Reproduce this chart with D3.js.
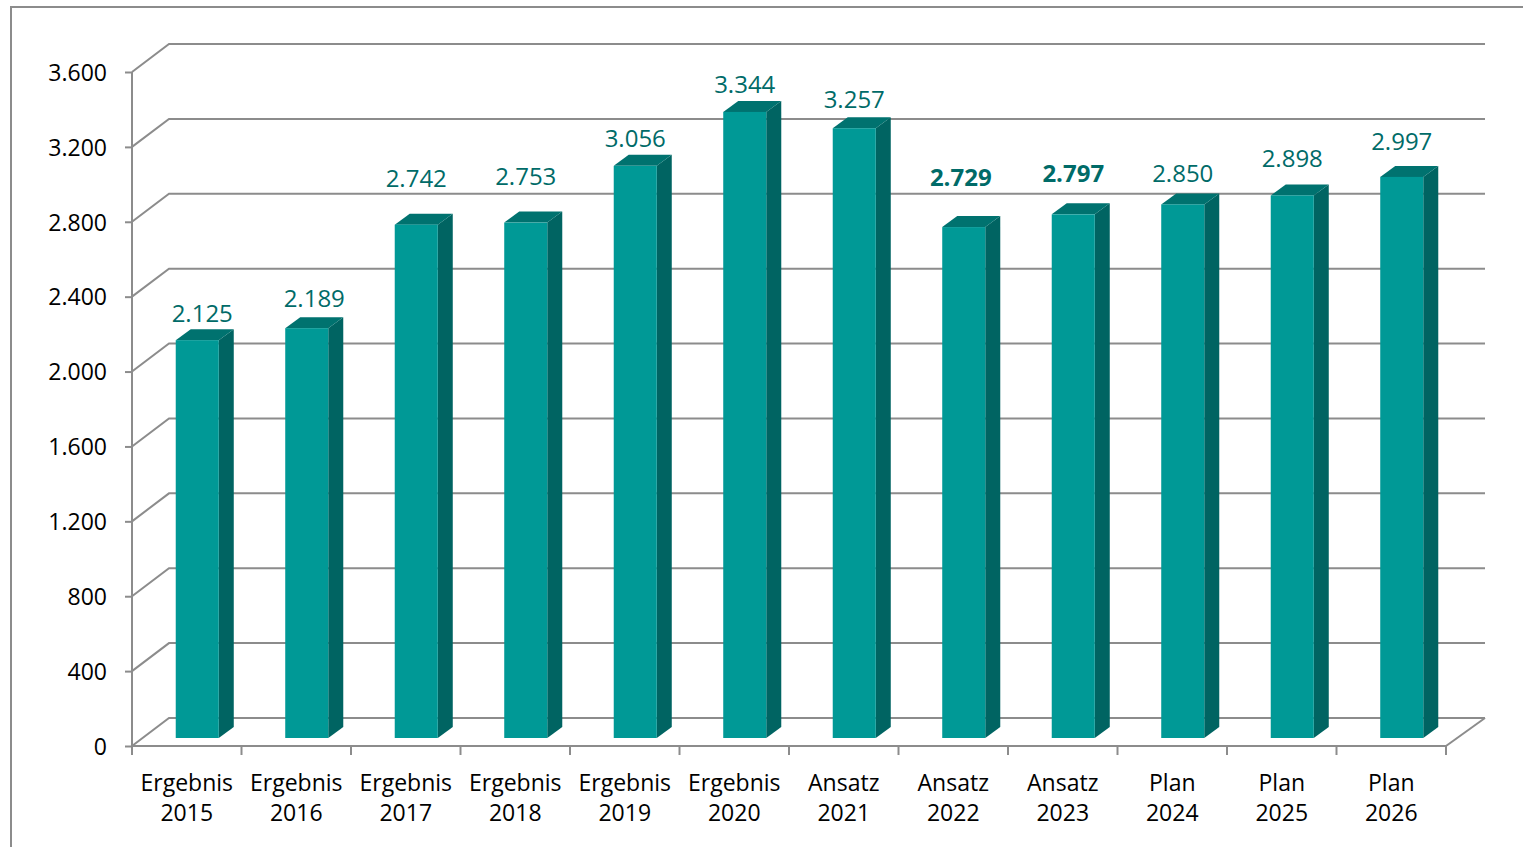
<!DOCTYPE html>
<html>
<head>
<meta charset="utf-8">
<script src="https://cdn.jsdelivr.net/npm/d3@7"></script>
<style>
  body { margin: 0; background: #fff; }
  svg { display: block; }
  text { font-family: "Open Sans", Lato, sans-serif; }
</style>
</head>
<body>
<div id="chart"></div>
<script>
// data
const kinds = ['Ergebnis', 'Ergebnis', 'Ergebnis', 'Ergebnis', 'Ergebnis', 'Ergebnis',
  'Ansatz', 'Ansatz', 'Ansatz', 'Plan', 'Plan', 'Plan'];
const years = ['2015', '2016', '2017', '2018', '2019', '2020',
  '2021', '2022', '2023', '2024', '2025', '2026'];
const values = [2125, 2189, 2742, 2753, 3056, 3344, 3257, 2729, 2797, 2850, 2898, 2997];
const boldLabels = ['2022', '2023'];
const yTicks = [0, 400, 800, 1200, 1600, 2000, 2400, 2800, 3200, 3600];

// value labels were placed by hand in the original: px above bar top, px sideways
const labelLift = [17.7, 21, 38, 37.7, 18.7, 19, 20, 41, 32, 22.3, 28, 26.7];
const labelShift = [5, 7.5, 0, 0, 0, 0, 0, -3, 0, 0, 0, 0];

const svgWidth = 1523;
const svgHeight = 847;

// plot area (front plane)
const x0 = 132, x1 = 1446;
const yTop = 72, yBottom = 746;

// 3D offsets: wall depth and bar position inside it
const depth = {dx: 37, dy: -28};
const barFront = {dx: 10.5, dy: -8};
const barDepth = {dx: 15, dy: -11};

const colors = {
  grid: '#8c8c8c',
  front: '#009996',
  side: '#006462',
  top: '#00726f',
  label: '#006b68'
};

const de = d3.formatLocale({decimal: ',', thousands: '.', grouping: [3], currency: ['', '€']});
const fmt = de.format(',d');

const svg = d3.select('#chart')
  .append('svg')
  .attr('width', svgWidth)
  .attr('height', svgHeight);

// outer frame
svg.append('rect')
  .attr('x', 11).attr('y', 7)
  .attr('width', 1600).attr('height', 1000)
  .attr('fill', 'none')
  .attr('stroke', '#8c8c8c')
  .attr('stroke-width', 2);

const x = d3.scaleBand()
  .domain(years)
  .range([x0, x1])
  .paddingInner(0.607)
  .paddingOuter(0.3035);

const xTicks = d3.scalePoint()
  .domain(d3.range(years.length + 1))
  .range([x0, x1]);

const y = d3.scaleLinear()
  .domain([0, 3600])
  .range([yBottom, yTop]);

// back wall grid lines + diagonal side wall lines
const grid = svg.append('g')
  .attr('stroke', colors.grid)
  .attr('stroke-width', 2)
  .attr('fill', 'none');

grid.selectAll('path.grid')
  .data(yTicks)
  .join('path')
  .classed('grid', true)
  .attr('d', d => `M${x0},${y(d)} L${x0 + depth.dx},${y(d) + depth.dy} L${x1 + depth.dx + 2},${y(d) + depth.dy}`);

// floor: right edge
grid.append('path')
  .attr('d', `M${x1},${yBottom} L${x1 + depth.dx + 2},${yBottom + depth.dy}`);

// y axis
const yAxis = svg.append('g')
  .attr('transform', `translate(${x0},0)`)
  .call(d3.axisLeft(y).tickValues(yTicks).tickFormat(fmt).tickSize(7).tickPadding(18));
yAxis.select('.domain').remove();
yAxis.selectAll('line').attr('stroke', colors.grid).attr('stroke-width', 2);
yAxis.selectAll('text')
  .attr('font-size', 23)
  .attr('fill', '#000')
  .attr('font-family', '"Open Sans", Lato, sans-serif')
  .attr('dy', '0.36em');

svg.append('line')
  .attr('x1', x0).attr('x2', x0)
  .attr('y1', yTop).attr('y2', yBottom + 9)
  .attr('stroke', colors.grid).attr('stroke-width', 2);

// x axis line and category ticks
svg.append('line')
  .attr('x1', x0).attr('x2', x1)
  .attr('y1', yBottom).attr('y2', yBottom)
  .attr('stroke', colors.grid).attr('stroke-width', 2);

svg.selectAll('line.xtick')
  .data(xTicks.domain())
  .join('line')
  .classed('xtick', true)
  .attr('x1', d => xTicks(d)).attr('x2', d => xTicks(d))
  .attr('y1', yBottom).attr('y2', yBottom + 9)
  .attr('stroke', colors.grid).attr('stroke-width', 2);

// bars
const data = years.map((yr, i) => ({
  year: yr, kind: kinds[i], value: values[i], lift: labelLift[i], shift: labelShift[i]
}));

const bars = svg.selectAll('g.bar')
  .data(data)
  .join('g')
  .classed('bar', true);

const bw = x.bandwidth();
const fx = d => x(d.year) + barFront.dx;
const fyTop = d => y(d.value) + barFront.dy;
const fyBot = () => y(0) + barFront.dy;

// side face
bars.append('path')
  .attr('fill', colors.side)
  .attr('d', d => {
    const r = fx(d) + bw;
    return `M${r},${fyTop(d)} L${r + barDepth.dx},${fyTop(d) + barDepth.dy} ` +
      `L${r + barDepth.dx},${fyBot() + barDepth.dy} L${r},${fyBot()} Z`;
  });

// top face
bars.append('path')
  .attr('fill', colors.top)
  .attr('d', d => {
    const l = fx(d), t = fyTop(d);
    return `M${l},${t} L${l + barDepth.dx},${t + barDepth.dy} ` +
      `L${l + bw + barDepth.dx},${t + barDepth.dy} L${l + bw},${t} Z`;
  });

// front face
bars.append('rect')
  .attr('fill', colors.front)
  .attr('x', d => fx(d))
  .attr('y', d => fyTop(d))
  .attr('width', bw)
  .attr('height', d => fyBot() - fyTop(d));

// value labels
bars.append('text')
  .attr('x', d => fx(d) + bw / 2 + d.shift)
  .attr('y', d => fyTop(d) - d.lift)
  .attr('text-anchor', 'middle')
  .attr('font-size', 24)
  .attr('font-weight', d => boldLabels.includes(d.year) ? 'bold' : 'normal')
  .attr('fill', colors.label)
  .text(d => fmt(d.value));

// category labels (two lines)
const cats = svg.selectAll('text.cat')
  .data(data)
  .join('text')
  .classed('cat', true)
  .attr('text-anchor', 'middle')
  .attr('font-size', 23)
  .attr('fill', '#000');

cats.append('tspan')
  .attr('x', d => x(d.year) + bw / 2)
  .attr('y', 791)
  .text(d => d.kind);
cats.append('tspan')
  .attr('x', d => x(d.year) + bw / 2)
  .attr('y', 821)
  .text(d => d.year);
</script>
</body>
</html>
